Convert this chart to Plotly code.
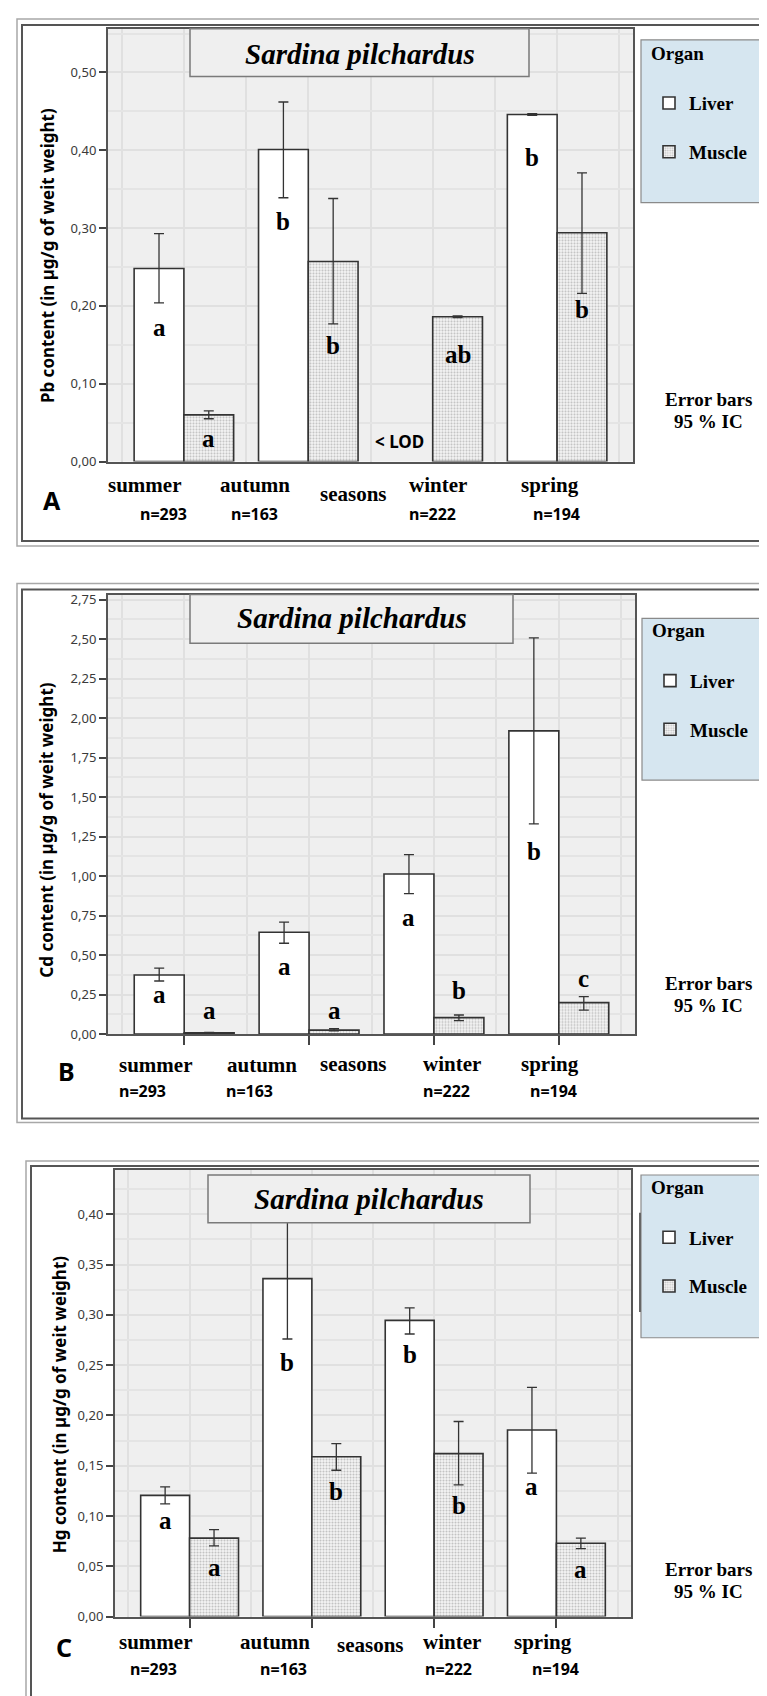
import plotly.graph_objects as go

W, H = 767, 1696

# ---------------- data ----------------
seasons = ["summer", "autumn", "winter", "spring"]
sample_sizes = ["n=293", "n=163", "n=222", "n=194"]
organs = ["Liver", "Muscle"]

# Panel A : Pb (winter liver < LOD)
pb_liver = [0.248, 0.401, None, 0.446]
pb_liver_lo = [0.204, 0.339, None, 0.445]
pb_liver_hi = [0.293, 0.462, None, 0.447]
pb_muscle = [0.060, 0.257, 0.186, 0.294]
pb_muscle_lo = [0.055, 0.177, 0.185, 0.216]
pb_muscle_hi = [0.065, 0.338, 0.187, 0.371]
pb_liver_letters = ["a", "b", "", "b"]
pb_muscle_letters = ["a", "b", "ab", "b"]
pb_liver_letter_y = [0.172, 0.308, None, 0.391]
pb_muscle_letter_y = [0.030, 0.149, 0.137, 0.195]

# Panel B : Cd
cd_liver = [0.374, 0.645, 1.013, 1.919]
cd_liver_lo = [0.336, 0.575, 0.889, 1.331]
cd_liver_hi = [0.417, 0.709, 1.136, 2.507]
cd_muscle = [0.008, 0.025, 0.104, 0.199]
cd_muscle_lo = [0.006, 0.021, 0.085, 0.152]
cd_muscle_hi = [0.010, 0.034, 0.121, 0.237]
cd_liver_letters = ["a", "a", "a", "b"]
cd_muscle_letters = ["a", "a", "b", "c"]
cd_liver_letter_y = [0.248, 0.427, 0.738, 1.157]
cd_muscle_letter_y = [0.152, 0.152, 0.279, 0.353]

# Panel C : Hg
hg_liver = [0.1205, 0.336, 0.2945, 0.1855]
hg_liver_lo = [0.112, 0.276, 0.281, 0.1426]
hg_liver_hi = [0.129, 0.396, 0.307, 0.228]
hg_muscle = [0.078, 0.159, 0.162, 0.073]
hg_muscle_lo = [0.0704, 0.1455, 0.131, 0.0676]
hg_muscle_hi = [0.0865, 0.172, 0.194, 0.078]
hg_liver_letters = ["a", "b", "b", "a"]
hg_muscle_letters = ["a", "b", "b", "a"]
hg_liver_letter_y = [0.0955, 0.253, 0.261, 0.129]
hg_muscle_letter_y = [0.049, 0.124, 0.110, 0.047]

y_titles = ["Pb content (in µg/g of weit weight)",
            "Cd content (in µg/g of weit weight)",
            "Hg content (in µg/g of weit weight)"]
species = "Sardina pilchardus"
axis_word = "seasons"
lod_text = "< LOD"
err_text = ["Error bars", "95 % IC"]
panel_letters = ["A", "B", "C"]

# ---------------- layout geometry (pixels) ----------------
SERIF = "Liberation Serif"
SANS = "Noto Sans"
DARK = "#333333"


def px(x):
    return x / W


def py(y):
    return 1 - y / H


panels = [
    dict(suffix="", legend="legend",
         data=(pb_liver, pb_liver_lo, pb_liver_hi, pb_muscle, pb_muscle_lo, pb_muscle_hi),
         letters=(pb_liver_letters, pb_liver_letter_y, pb_muscle_letters, pb_muscle_letter_y),
         plot=(100, 17, 625, 453), yrange=[0, 0.556], dtick=0.1, minor=0.05, xticks=False,
         tbox=(182, 17, 521, 65), ttext_y=42,
         lbox=(633, 28, 192), leg_y=23,
         outer=(9, 7, 538), inner=(14, 13, 533),
         season_pos=[(136, 477), (247, 477), (430, 477), (542, 477)], word_pos=(345, 486),
         n_pos=[(155, 506), (246, 506), (424, 506), (548, 506)],
         letter_pos=(44, 492), err_pos=(700, 390, 413), ytitle_pos=(39, 246)),
    dict(suffix="2", legend="legend2",
         data=(cd_liver, cd_liver_lo, cd_liver_hi, cd_muscle, cd_muscle_lo, cd_muscle_hi),
         letters=(cd_liver_letters, cd_liver_letter_y, cd_muscle_letters, cd_muscle_letter_y),
         plot=(100, 587, 627, 1030), yrange=[0, 2.782], dtick=0.25, minor=0.125, xticks=True,
         tbox=(182, 587, 505, 636), ttext_y=611,
         lbox=(634, 611, 774), leg_y=605,
         outer=(9, 576, 1119), inner=(14, 582, 1115),
         season_pos=[(147, 1061), (254, 1061), (444, 1060), (542, 1060)], word_pos=(345, 1060),
         n_pos=[(134, 1087), (241, 1087), (438, 1087), (545, 1087)],
         letter_pos=(58, 1067), err_pos=(700, 979, 1001), ytitle_pos=(39, 825)),
    dict(suffix="3", legend="legend3",
         data=(hg_liver, hg_liver_lo, hg_liver_hi, hg_muscle, hg_muscle_lo, hg_muscle_hi),
         letters=(hg_liver_letters, hg_liver_letter_y, hg_muscle_letters, hg_muscle_letter_y),
         plot=(107, 1167, 623, 1617), yrange=[0, 0.444], dtick=0.05, minor=0.025, xticks=True,
         tbox=(200, 1172, 522, 1220), ttext_y=1196,
         lbox=(633, 1172, 1336), leg_y=1166,
         outer=(18, 1158, 1760), inner=(23, 1163, 1760),
         season_pos=[(147, 1643), (267, 1643), (444, 1643), (535, 1643)], word_pos=(362, 1646),
         n_pos=[(145, 1670), (275, 1670), (440, 1670), (547, 1670)],
         letter_pos=(56, 1648), err_pos=(700, 1570, 1592), ytitle_pos=(51, 1403)),
]

fig = go.Figure()
shapes = []
annotations = []
xs = list(range(len(seasons)))
BAR_W = 0.4  # each bar; group gap 0.2


def err(vals, lo, hi):
    up = [None if v is None else h - v for v, h in zip(vals, hi)]
    dn = [None if v is None else v - l for v, l in zip(vals, lo)]
    return up, dn


def serif_bold(size):
    return dict(family=SERIF, size=size, color="black")


for k, p in enumerate(panels):
    s = p["suffix"]
    xa, ya = "x" + s, "y" + s
    lv, llo, lhi, mv, mlo, mhi = p["data"]
    up, dn = err(lv, llo, lhi)
    fig.add_trace(go.Bar(
        x=xs, y=lv, name="<b>" + organs[0] + "</b>", xaxis=xa, yaxis=ya, legend=p["legend"],
        offsetgroup="liver", legendgroup="liver" + s,
        marker=dict(color="white", line=dict(color=DARK, width=1.6)),
        error_y=dict(type="data", symmetric=False, array=up, arrayminus=dn,
                     color=DARK, thickness=1.3, width=5),
        hoverinfo="skip"))
    up, dn = err(mv, mlo, mhi)
    fig.add_trace(go.Bar(
        x=xs, y=mv, name="<b>" + organs[1] + "</b>", xaxis=xa, yaxis=ya, legend=p["legend"],
        offsetgroup="muscle", legendgroup="muscle" + s,
        marker=dict(color="white", line=dict(color=DARK, width=1.6),
                    pattern=dict(shape=".", fgcolor="#8c8c8c", bgcolor="#f6f6f6",
                                 size=3, solidity=0.4)),
        error_y=dict(type="data", symmetric=False, array=up, arrayminus=dn,
                     color=DARK, thickness=1.3, width=5),
        hoverinfo="skip"))

    x0, y0, x1, y1 = p["plot"]
    fig.layout["xaxis" + s] = dict(
        domain=[px(x0), px(x1)], anchor=ya, range=[-0.61, 3.61],
        tickmode="array", tickvals=xs, ticktext=["" for _ in xs],
        ticks="outside" if p["xticks"] else "", ticklen=9, tickwidth=2, tickcolor="#444",
        showgrid=True, gridcolor="#e0e0e0", gridwidth=1.5,
        minor=dict(tickmode="linear", tick0=-0.5, dtick=0.5, showgrid=True,
                   gridcolor="#e0e0e0", gridwidth=1.5, ticks=""),
        showline=True, mirror=True, linecolor="#555", linewidth=2,
        zeroline=False, fixedrange=True)
    fig.layout["yaxis" + s] = dict(
        domain=[py(y1), py(y0)], anchor=xa, range=p["yrange"],
        tickmode="linear", tick0=0, dtick=p["dtick"], tickformat=".2f",
        ticks="outside", ticklen=7, tickwidth=1.5, tickcolor="#444",
        tickfont=dict(family=SANS, size=13, color="#3a3a3a"),
        showgrid=True, gridcolor="#e0e0e0", gridwidth=1.5,
        minor=dict(dtick=p["minor"], showgrid=True, gridcolor="#e4e4e4", gridwidth=1.5, ticks=""),
        showline=True, mirror=True, linecolor="#555", linewidth=2,
        zeroline=False, fixedrange=True)

    # outer double frame
    ox, oy0, oy1 = p["outer"]
    ix, iy0, iy1 = p["inner"]
    shapes.append(dict(type="rect", xref="paper", yref="paper", x0=px(ox), x1=1.05,
                       y0=py(oy1), y1=py(oy0), line=dict(color="#a8a8a8", width=1.5),
                       layer="below"))
    shapes.append(dict(type="rect", xref="paper", yref="paper", x0=px(ix), x1=1.05,
                       y0=py(iy1), y1=py(iy0), line=dict(color="#555", width=2),
                       layer="below"))
    # title box
    tx0, ty0, tx1, ty1 = p["tbox"]
    shapes.append(dict(type="rect", xref="paper", yref="paper", x0=px(tx0), x1=px(tx1),
                       y0=py(ty1), y1=py(ty0), fillcolor="#efefef",
                       line=dict(color="#7a7a7a", width=1.5), layer="above"))
    annotations.append(dict(text="<b><i>" + species + "</i></b>", xref="paper", yref="paper",
                            x=px((tx0 + tx1) / 2), y=py(p["ttext_y"]),
                            showarrow=False, xanchor="center", yanchor="middle",
                            font=serif_bold(29)))
    # legend box
    lx0, ly0, ly1 = p["lbox"]
    shapes.append(dict(type="rect", xref="paper", yref="paper", x0=px(lx0), x1=1.05,
                       y0=py(ly1), y1=py(ly0), fillcolor="#d6e6f0",
                       line=dict(color="#8a8a8a", width=1.2), layer="below"))
    fig.layout[p["legend"]] = dict(
        x=px(lx0 + 8), y=py(p["leg_y"]), xanchor="left", yanchor="top",
        bgcolor="rgba(0,0,0,0)", borderwidth=0,
        title=dict(text="<b>Organ</b><br> ", font=serif_bold(19)),
        font=serif_bold(19),
        traceorder="grouped", tracegroupgap=21, itemclick=False, itemdoubleclick=False)

    # season labels, n, axis word
    for name, (sx, sy) in zip(seasons, p["season_pos"]):
        annotations.append(dict(text="<b>" + name + "</b>", xref="paper", yref="paper",
                                x=px(sx), y=py(sy), showarrow=False,
                                xanchor="center", yanchor="middle", font=serif_bold(21)))
    for nn, (sx, sy) in zip(sample_sizes, p["n_pos"]):
        annotations.append(dict(text="<b>" + nn + "</b>", xref="paper", yref="paper",
                                x=px(sx), y=py(sy), showarrow=False,
                                xanchor="center", yanchor="middle",
                                font=dict(family=SANS, size=16, color="black")))
    wx, wy = p["word_pos"]
    annotations.append(dict(text="<b>" + axis_word + "</b>", xref="paper", yref="paper",
                            x=px(wx), y=py(wy), showarrow=False,
                            xanchor="center", yanchor="middle", font=serif_bold(21)))
    lx, ly = p["letter_pos"]
    annotations.append(dict(text="<b>" + panel_letters[k] + "</b>", xref="paper", yref="paper",
                            x=px(lx), y=py(ly), showarrow=False,
                            xanchor="center", yanchor="middle",
                            font=dict(family=SANS, size=25, color="black")))
    ex, ey1, ey2 = p["err_pos"]
    for t, yy in zip(err_text, (ey1, ey2)):
        annotations.append(dict(text="<b>" + t + "</b>", xref="paper", yref="paper",
                                x=px(ex), y=py(yy), showarrow=False,
                                xanchor="center", yanchor="middle", font=serif_bold(19)))
    tx, ty = p["ytitle_pos"]
    annotations.append(dict(text="<b>" + y_titles[k] + "</b>", xref="paper", yref="paper",
                            x=px(tx), y=py(ty), showarrow=False,
                            xanchor="center", yanchor="middle", textangle=-90,
                            font=dict(family=SANS, size=17, color="black")))
    # significance letters
    ll, lly, ml, mly = p["letters"]
    for i, (t, yv) in enumerate(zip(ll, lly)):
        if t:
            annotations.append(dict(text="<b>" + t + "</b>", xref=xa, yref=ya,
                                    x=xs[i] - BAR_W / 2, y=yv, showarrow=False,
                                    xanchor="center", yanchor="middle", font=serif_bold(25)))
    for i, (t, yv) in enumerate(zip(ml, mly)):
        if t:
            annotations.append(dict(text="<b>" + t + "</b>", xref=xa, yref=ya,
                                    x=xs[i] + BAR_W / 2, y=yv, showarrow=False,
                                    xanchor="center", yanchor="middle", font=serif_bold(25)))

# "< LOD" marker for winter liver Pb
annotations.append(dict(text="<b>" + lod_text + "</b>", xref="x", yref="y",
                        x=xs[2] - 0.27, y=0.026, showarrow=False,
                        xanchor="center", yanchor="middle",
                        font=dict(family=SANS, size=17, color="black")))
# dark edge at left of legend C
shapes.append(dict(type="line", xref="paper", yref="paper", x0=px(632), x1=px(632),
                   y0=py(1310), y1=py(1210), line=dict(color="#666", width=2), layer="above"))

fig.update_layout(
    width=W, height=H, margin=dict(l=0, r=0, t=0, b=0),
    paper_bgcolor="white", plot_bgcolor="#efefef",
    barmode="group", bargap=0.2, bargroupgap=0,
    separators=",.",
    shapes=shapes, annotations=annotations,
    showlegend=True,
)

fig.write_html("out.html")
